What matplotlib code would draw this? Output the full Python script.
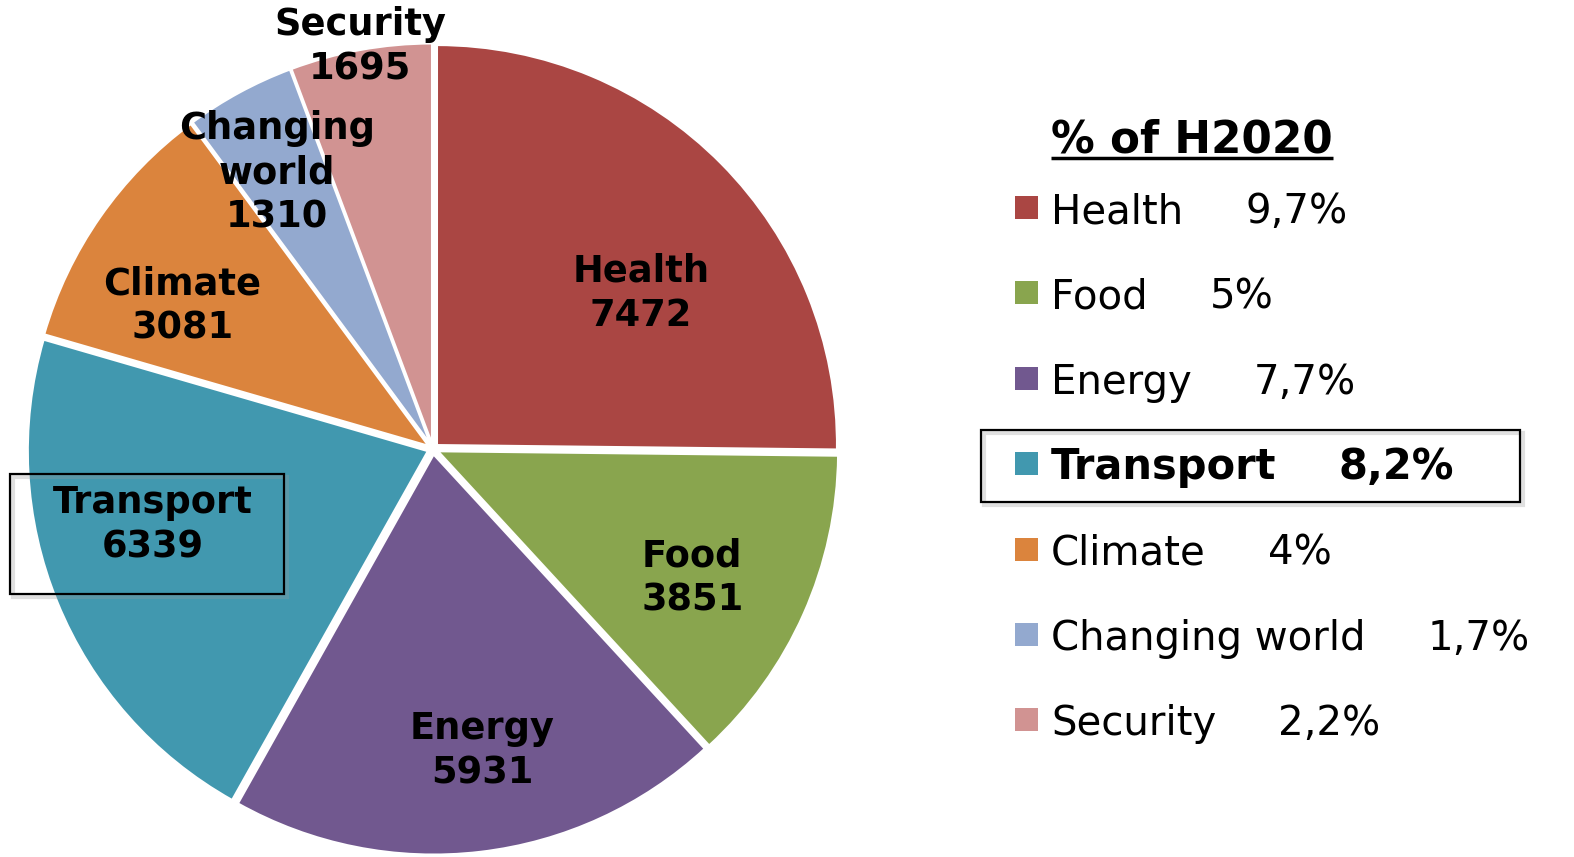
import matplotlib.pyplot as plt
from matplotlib.patches import Rectangle

# --- data ---
categories = ['Health', 'Food', 'Energy', 'Transport', 'Climate', 'Changing world', 'Security']
budget = [7472, 3851, 5931, 6339, 3081, 1310, 1695]
share_h2020 = ['9,7%', '5%', '7,7%', '8,2%', '4%', '1,7%', '2,2%']
pie_names = ['Health', 'Food', 'Energy', 'Transport', 'Climate', 'Changing\nworld', 'Security']
colors = ['#AA4643', '#89A54E', '#71588F', '#4198AF', '#DB843D', '#93A9CF', '#D19392']
highlight = 'Transport'

# label placement inside the pie (radius = 1)
label_xy = [(0.52, 0.39), (0.648, -0.323), (0.123, -0.755), (-0.70, -0.19),
            (-0.627, 0.357), (-0.39, 0.69), (-0.182, 1.005)]

W, H = 1574, 857
fig = plt.figure(figsize=(W / 100, H / 100), dpi=100)

# pie centre and radius in pixels
cx, cy, R = 433, 449, 400
half = 1.1 * R
ax = fig.add_axes([(cx - half) / W, (H - cy - half) / H, 2 * half / W, 2 * half / H])
wedges, _ = ax.pie(budget, colors=colors, startangle=90, counterclock=False,
                   explode=[0.014] * len(budget),
                   wedgeprops=dict(edgecolor='white', linewidth=1.5))
ax.set_xlim(-1.1, 1.1)
ax.set_ylim(-1.1, 1.1)
ax.set_aspect('equal')
ax.axis('off')

for name, val, (x, y) in zip(pie_names, budget, label_xy):
    ax.text(x, y, f'{name}\n{val}', ha='center', va='center', fontsize=26.5,
            fontweight='bold', linespacing=1.25, multialignment='center')

# overlay in pixel coordinates (y down) for legend and boxes
lax = fig.add_axes([0, 0, 1, 1])
lax.set_xlim(0, W)
lax.set_ylim(H, 0)
lax.axis('off')
lax.patch.set_alpha(0)

# box around the Transport label in the pie
lax.add_patch(Rectangle((13, 477), 274, 120, facecolor='none', edgecolor='#999999',
                        linewidth=3, alpha=0.3))
lax.add_patch(Rectangle((10, 474), 274, 120, facecolor='none', edgecolor='black',
                        linewidth=1.6))

# legend
title = lax.text(1051, 152, '% of H2020', fontsize=31.5, fontweight='bold', va='baseline')
row0, step = 223, 85.4
texts = []
for i, (cat, pct, col) in enumerate(zip(categories, share_h2020, colors)):
    yb = row0 + i * step
    bold = cat == highlight
    lax.add_patch(Rectangle((1015, yb - 27), 23, 23, facecolor=col, edgecolor='none'))
    t = lax.text(1051, yb, cat, fontsize=30 if bold else 29,
                 fontweight='bold' if bold else 'normal', va='baseline')
    texts.append((t, pct, yb, bold))

fig.canvas.draw()
renderer = fig.canvas.get_renderer()
for t, pct, yb, bold in texts:
    x1 = t.get_window_extent(renderer).x1
    lax.text(x1 + 62, yb, pct, fontsize=30 if bold else 29,
             fontweight='bold' if bold else 'normal', va='baseline')

tb = title.get_window_extent(renderer)
lax.plot([tb.x0, tb.x1], [158, 158], color='black', linewidth=2.5, solid_capstyle='butt')

# box around the Transport legend row
lax.add_patch(Rectangle((984, 433), 539, 72, facecolor='none', edgecolor='#999999',
                        linewidth=3, alpha=0.3))
lax.add_patch(Rectangle((981, 430), 539, 72, facecolor='none', edgecolor='black',
                        linewidth=1.6))

fig.savefig('out.png', dpi=100)
